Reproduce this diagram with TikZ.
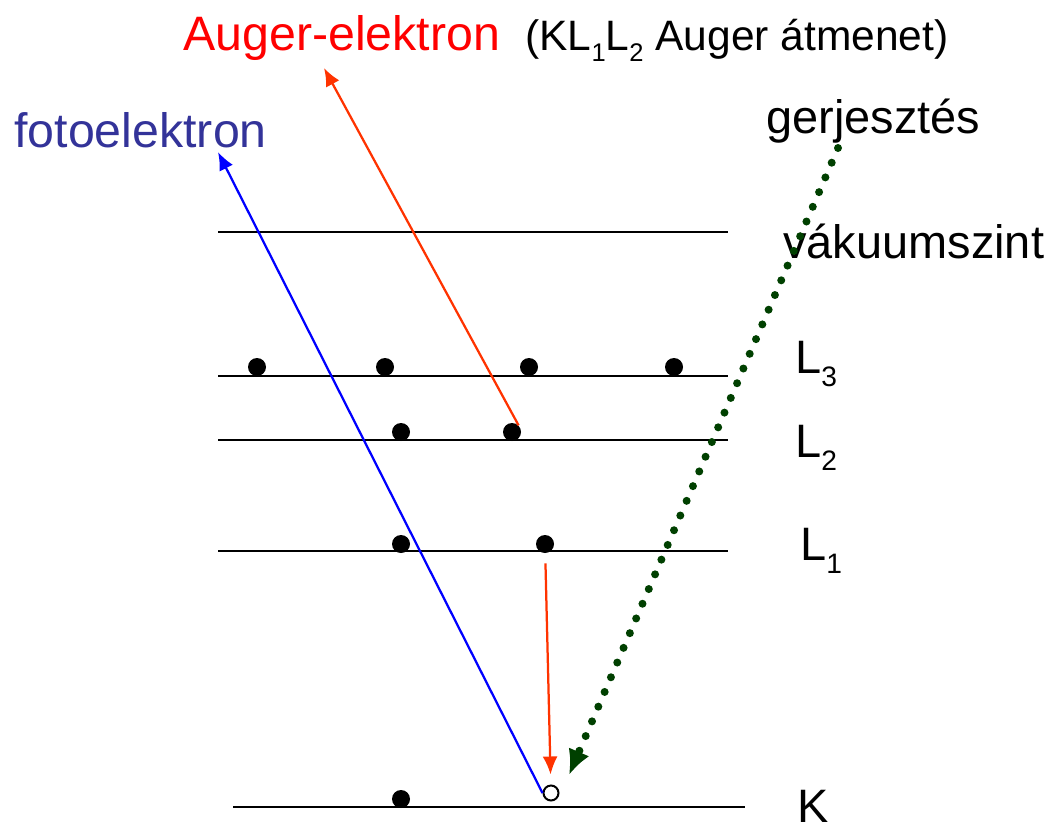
\documentclass[tikz,border=0pt]{standalone}
\usepackage{fontspec}
\setmainfont{Liberation Sans}
\usetikzlibrary{arrows.meta}
\definecolor{fotokek}{RGB}{51,51,153}
\definecolor{augerpiros}{RGB}{255,51,0}
\definecolor{gerjzold}{RGB}{0,64,0}
\newcommand{\idx}[1]{\raisebox{-0.28em}{\scalebox{0.6}{#1}}}
\tikzset{
  elektron/.style={circle, fill=black, inner sep=0pt, minimum size=0.36cm},
  lyuk/.style={circle, draw=black, fill=white, line width=0.04cm, inner sep=0pt, minimum size=0.3cm},
  szint/.style={line width=0.04cm},
  felirat/.style={anchor=base west, inner sep=0pt, font=\fontsize{26.7}{30}\selectfont},
  nagyfelirat/.style={anchor=base west, inner sep=0pt, font=\fontsize{27.5}{31}\selectfont},
  kisfelirat/.style={anchor=base west, inner sep=0pt, font=\fontsize{24.2}{28}\selectfont},
}
\begin{document}
\begin{tikzpicture}[x=0.02cm, y=-0.02cm, >={Latex[length=0.36cm, width=0.3cm]}]
    \useasboundingbox (0,0) rectangle (1054,825);
    % Energiaszintek
    \draw[szint] (218,232) -- (728,232);
    \foreach \y in {376,440,551} {
        \draw[szint] (218,\y) -- (728,\y);
    }
    \draw[szint] (233,807) -- (745,807);

    % Elektronok
    \foreach \x [count=\i] in {257,385,529,674} {
        \node[elektron] (l3\i) at (\x,367) {};
    }
    \node[elektron] (l2a) at (401,432) {};
    \node[elektron] (l2b) at (512,432) {};
    \node[elektron] (l1a) at (401,544) {};
    \node[elektron] (l1b) at (545,544) {};
    \node[elektron] (ka) at (401,799) {};
    \node[lyuk] (lyuk) at (551,793) {};

    % Feliratok
    \node[nagyfelirat, text=red] (auger) at (183,50) {Auger-elektron};
    \node[kisfelirat] (atmenet) at (525,50) {(KL\idx{1}L\idx{2} Auger átmenet)};
    \node[nagyfelirat, text=fotokek] (foto) at (14,147) {fotoelektron};
    \node[felirat] (gerj) at (766,133) {gerjesztés};
    \node[felirat] (vak) at (783,258) {vákuumszint};
    \node[felirat] (l3cimke) at (795,373) {L\idx{3}};
    \node[felirat] (l2cimke) at (795,457) {L\idx{2}};
    \node[felirat] (l1cimke) at (800,560) {L\idx{1}};
    \node[felirat] (kcimke) at (797,822) {K};

    % Nyilak
    \coordinate (fotoveg) at (218,152);
    \coordinate (augerveg) at (324,68);
    \coordinate (gerjkezd) at (838,148);
    \coordinate (gerjveg) at (569,775);
    \draw[->, blue, line width=0.045cm] (lyuk.west) -- (fotoveg);
    \draw[->, augerpiros, line width=0.045cm] (l2b.north east) -- (augerveg);
    \draw[->, augerpiros, line width=0.045cm, shorten <=0.2cm, shorten >=0.2cm] (l1b) -- (lyuk);
    \draw[gerjzold, line width=0.16cm, line cap=round, dash pattern=on 0pt off 0.32cm,
          -{Latex[length=0.5cm, width=0.45cm]}] (gerjkezd) -- (gerjveg);
\end{tikzpicture}
\end{document}
